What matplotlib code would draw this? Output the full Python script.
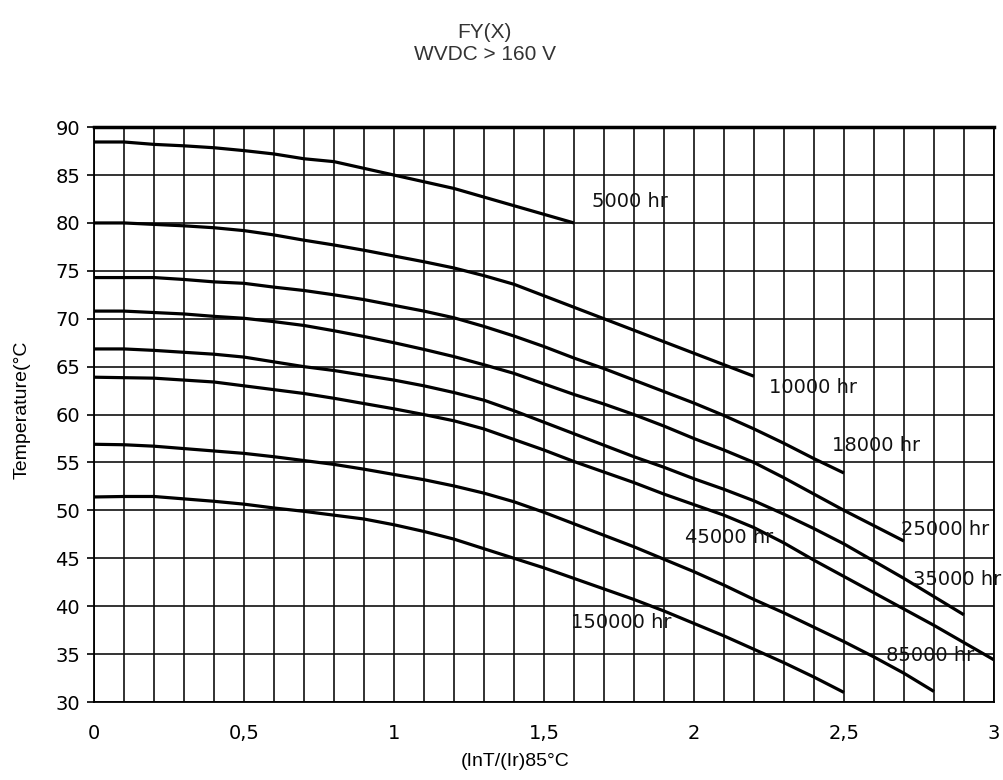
import matplotlib
matplotlib.use("Agg")
import matplotlib.pyplot as plt
from matplotlib.ticker import MultipleLocator, FixedLocator

# curve data: (InT/(Ir)85C) vs temperature
x_5000 = [0, 0.1, 0.2, 0.3, 0.4, 0.5, 0.6, 0.7, 0.8, 0.9, 1.0, 1.1, 1.2, 1.3, 1.4, 1.5, 1.6]
t_5000 = [88.45, 88.45, 88.2, 88.05, 87.85, 87.55, 87.2, 86.7, 86.4, 85.7, 85.0, 84.3, 83.6, 82.7, 81.8, 80.9, 80.0]

x_10000 = [i / 10 for i in range(0, 23)]
t_10000 = [80.0, 80.0, 79.85, 79.7, 79.5, 79.2, 78.75, 78.2, 77.7, 77.15, 76.55, 75.95, 75.3, 74.5,
           73.6, 72.4, 71.2, 70.0, 68.8, 67.6, 66.4, 65.2, 64.0]

x_18000 = [i / 10 for i in range(0, 26)]
t_18000 = [74.3, 74.3, 74.3, 74.1, 73.85, 73.7, 73.3, 72.95, 72.5, 72.0, 71.4, 70.8, 70.1, 69.2,
           68.2, 67.1, 65.9, 64.8, 63.6, 62.4, 61.2, 59.9, 58.5, 57.0, 55.4, 53.9]

x_25000 = [i / 10 for i in range(0, 28)]
t_25000 = [70.8, 70.8, 70.65, 70.5, 70.25, 70.05, 69.7, 69.3, 68.75, 68.15, 67.5, 66.8, 66.05, 65.2,
           64.3, 63.2, 62.1, 61.1, 60.0, 58.8, 57.5, 56.3, 55.0, 53.4, 51.7, 50.0, 48.4, 46.8]

x_35000 = [i / 10 for i in range(0, 30)]
t_35000 = [66.85, 66.85, 66.7, 66.5, 66.3, 66.0, 65.5, 65.0, 64.6, 64.1, 63.6, 63.0, 62.3, 61.5,
           60.4, 59.2, 58.0, 56.8, 55.6, 54.5, 53.3, 52.2, 51.0, 49.6, 48.1, 46.5, 44.7, 42.9,
           41.0, 39.1]

x_45000 = [i / 10 for i in range(0, 31)]
t_45000 = [63.9, 63.85, 63.8, 63.6, 63.4, 63.0, 62.6, 62.2, 61.7, 61.15, 60.6, 60.0, 59.35, 58.5,
           57.4, 56.3, 55.1, 54.0, 52.9, 51.7, 50.6, 49.5, 48.2, 46.6, 44.8, 43.1, 41.4, 39.7,
           38.0, 36.2, 34.4]

x_85000 = [i / 10 for i in range(0, 29)]
t_85000 = [56.9, 56.85, 56.7, 56.45, 56.2, 55.95, 55.6, 55.2, 54.8, 54.3, 53.75, 53.2, 52.55, 51.8,
           50.9, 49.8, 48.6, 47.4, 46.2, 44.9, 43.6, 42.2, 40.7, 39.3, 37.8, 36.3, 34.7, 33.0, 31.1]

x_150000 = [i / 10 for i in range(0, 26)]
t_150000 = [51.4, 51.45, 51.45, 51.2, 50.95, 50.65, 50.25, 49.9, 49.5, 49.1, 48.5, 47.8, 47.0, 46.0,
            45.0, 44.0, 42.9, 41.8, 40.7, 39.5, 38.2, 36.9, 35.5, 34.1, 32.6, 31.0]

labels = ["5000 hr", "10000 hr", "18000 hr", "25000 hr", "35000 hr", "45000 hr", "85000 hr", "150000 hr"]
label_x = [1.66, 2.25, 2.46, 2.69, 2.73, 1.97, 2.64, 1.59]
label_t = [82.2, 62.8, 56.8, 48.0, 42.8, 47.2, 34.9, 38.3]

xticks = [0, 0.5, 1, 1.5, 2, 2.5, 3]
xticklabels = ["0", "0,5", "1", "1,5", "2", "2,5", "3"]

narrow = ["Liberation Sans Narrow", "DejaVu Sans Condensed", "Liberation Sans"]

fig = plt.figure(figsize=(10.04, 7.8), dpi=100)
ax = fig.add_axes([0.0936, 0.1, 0.8964, 0.737])

curves = [(x_5000, t_5000), (x_10000, t_10000), (x_18000, t_18000), (x_25000, t_25000),
          (x_35000, t_35000), (x_45000, t_45000), (x_85000, t_85000), (x_150000, t_150000)]
for xs, ts in curves:
    ax.plot(xs, ts, color="black", lw=2.3, solid_capstyle="butt", zorder=3)

for lab, lx, lt in zip(labels, label_x, label_t):
    ax.text(lx, lt, lab, fontsize=14, ha="left", va="center", color="#111", zorder=4)

ax.set_xlim(0, 3)
ax.set_ylim(30, 90)
ax.xaxis.set_major_locator(FixedLocator(xticks))
ax.set_xticklabels(xticklabels)
ax.xaxis.set_minor_locator(MultipleLocator(0.1))
ax.yaxis.set_major_locator(MultipleLocator(5))

ax.grid(which="both", axis="x", color="#222", lw=1.3)
ax.grid(which="major", axis="y", color="#111", lw=1.2)
ax.set_axisbelow(True)

ax.tick_params(axis="x", which="both", length=0, pad=16, labelsize=14)
ax.tick_params(axis="y", length=5, width=1.2, pad=5, labelsize=14, direction="out")

for side in ["left", "right", "bottom"]:
    ax.spines[side].set_linewidth(1.3)
ax.spines["top"].set_linewidth(2.5)

fig.text(0.483, 1 - 33 / 780, "FY(X)", ha="center", va="center", fontsize=15,
         family=narrow, color="#333")
fig.text(0.483, 1 - 55 / 780, "WVDC > 160 V", ha="center", va="center", fontsize=15,
         family=narrow, color="#333")
fig.text(515 / 1004, 1 - 762 / 780, "(InT/(Ir)85°C", ha="center", va="center", fontsize=14,
         family=narrow)
fig.text(22 / 1004, 1 - 410 / 780, "Temperature(°C", ha="center", va="center", fontsize=14,
         family=narrow, rotation=90)

fig.savefig("out.png", dpi=100)
